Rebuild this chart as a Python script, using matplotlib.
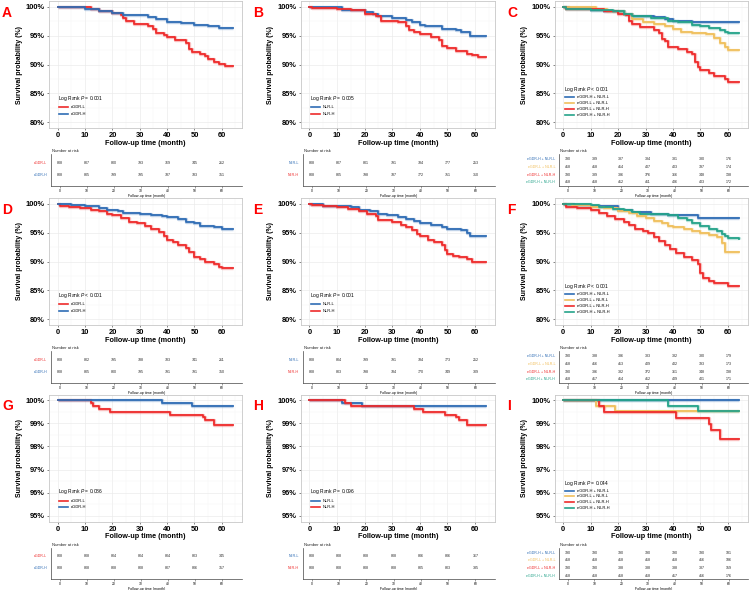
import numpy as np
import matplotlib.pyplot as plt
from matplotlib.ticker import MultipleLocator, FuncFormatter

plt.rcParams['font.family'] = ['Liberation Sans', 'DejaVu Sans']
plt.rcParams['mathtext.fontset'] = 'custom'
plt.rcParams['mathtext.rm'] = 'Liberation Sans'
plt.rcParams['mathtext.it'] = 'Liberation Sans:italic'

BLUE = '#2F6DB5'
RED = '#EE2B2B'
YEL = '#F0BF5C'
TEAL = '#25A38A'

# ---- survival curves: (month, survival %) ----
A_L = [(0, 100), (12, 99.6), (15, 99.3), (20, 98.9), (23, 98.5), (24, 98.0), (25, 97.5), (28, 97.1),
       (33, 96.7), (35, 96.2), (36, 95.5), (39, 95.1), (40, 94.7), (43, 94.2), (47, 93.7), (48, 92.6),
       (49, 92.1), (52, 91.8), (54, 91.4), (55, 91.0), (57, 90.5), (59, 90.1), (61, 89.8), (64, 89.8)]
A_H = [(0, 100), (3, 99.9), (10, 99.7), (15, 99.3), (20, 98.9), (24, 98.5), (33, 98.2), (36, 97.8),
       (40, 97.4), (45, 97.2), (50, 96.9), (55, 96.7), (59, 96.4), (64, 96.4)]

B_L = [(0, 100), (7, 99.9), (12, 99.5), (20, 99.1), (23, 98.8), (25, 98.4), (30, 98.0), (35, 97.7),
       (37, 97.3), (40, 96.9), (42, 96.7), (48, 96.2), (53, 95.9), (55, 95.6), (58, 95.0), (64, 95.0)]
B_H = [(0, 100), (1, 99.8), (10, 99.7), (15, 99.4), (20, 98.8), (24, 98.4), (26, 97.6), (32, 97.3),
       (35, 96.7), (36, 96.0), (38, 95.6), (40, 95.2), (44, 94.8), (47, 94.3), (48, 93.2), (50, 92.8),
       (53, 92.4), (57, 91.9), (59, 91.6), (61, 91.3), (64, 91.3)]

C_HL = [(0, 100), (2, 99.8), (10, 99.5), (15, 99.2), (22, 98.8), (25, 98.4), (33, 98.2), (37, 97.8),
        (40, 97.6), (47, 97.4), (64, 97.4)]
C_LL = [(0, 100), (12, 99.6), (16, 99.2), (22, 98.7), (25, 97.8), (29, 97.3), (33, 97.0), (37, 96.6),
        (40, 96.1), (43, 95.7), (47, 95.4), (52, 95.2), (55, 94.6), (57, 93.7), (59, 93.0), (60, 92.5),
        (64, 92.5)]
C_LH = [(0, 100), (1, 99.7), (10, 99.6), (15, 99.2), (20, 98.8), (23, 98.5), (24, 97.5), (25, 97.0),
        (28, 96.5), (33, 96.0), (35, 95.5), (36, 94.5), (37, 94.0), (38, 93.0), (42, 92.7), (45, 92.2),
        (47, 91.8), (48, 90.5), (49, 89.5), (50, 89.0), (53, 88.6), (55, 88.0), (59, 87.5), (60, 87.0),
        (64, 87.0)]
C_HH = [(0, 100), (1, 99.7), (10, 99.5), (18, 99.3), (22, 98.8), (25, 98.4), (32, 98.0), (38, 97.6),
        (42, 97.3), (47, 96.9), (50, 96.6), (53, 96.3), (57, 96.0), (59, 95.6), (60, 95.4), (64, 95.4)]

D_L = [(0, 100), (1, 99.7), (4, 99.5), (8, 99.2), (12, 98.9), (15, 98.7), (18, 98.3), (20, 98.1),
       (23, 97.5), (26, 96.9), (29, 96.6), (32, 96.1), (34, 95.6), (37, 95.1), (39, 94.5), (40, 93.8),
       (42, 93.3), (44, 92.8), (47, 92.3), (48, 91.6), (50, 90.8), (52, 90.5), (54, 90.0), (57, 89.6),
       (59, 89.0), (60, 88.8), (64, 88.8)]
D_H = [(0, 100), (5, 99.8), (10, 99.6), (15, 99.3), (18, 99.0), (22, 98.7), (24, 98.4), (30, 98.3),
       (34, 98.1), (38, 97.9), (40, 97.7), (44, 97.3), (47, 96.9), (50, 96.6), (52, 96.2), (57, 96.0),
       (60, 95.6), (64, 95.6)]

E_L = [(0, 100), (2, 99.9), (5, 99.7), (10, 99.6), (15, 99.4), (18, 99.0), (22, 98.7), (25, 98.2),
       (28, 98.0), (32, 97.7), (35, 97.4), (38, 97.1), (40, 96.7), (44, 96.4), (48, 96.0), (50, 95.7),
       (55, 95.4), (57, 95.0), (58, 94.5), (64, 94.5)]
E_H = [(0, 100), (1, 99.8), (5, 99.6), (10, 99.4), (14, 99.1), (18, 98.7), (21, 98.3), (24, 97.8),
       (25, 97.2), (30, 96.9), (33, 96.4), (35, 95.9), (37, 95.4), (39, 94.8), (40, 94.5), (43, 93.8),
       (45, 93.3), (48, 92.8), (49, 92.0), (50, 91.3), (52, 91.0), (54, 90.7), (57, 90.5), (59, 90.0),
       (64, 90.0)]

F_HL = [(0, 100), (4, 99.8), (10, 99.6), (20, 99.0), (25, 98.5), (32, 98.3), (38, 98.0), (49, 97.5),
        (64, 97.5)]
F_LL = [(0, 100), (3, 99.8), (10, 99.5), (15, 99.2), (20, 98.8), (24, 98.4), (27, 97.9), (30, 97.6),
        (33, 97.0), (36, 96.7), (38, 96.2), (40, 95.9), (44, 95.6), (47, 95.3), (50, 95.0), (53, 94.6),
        (56, 94.3), (58, 93.2), (59, 91.7), (64, 91.7)]
F_LH = [(0, 100), (1, 99.4), (5, 99.2), (10, 98.9), (13, 98.4), (16, 97.9), (19, 97.4), (22, 96.9),
        (24, 96.3), (26, 95.7), (29, 95.3), (31, 94.9), (33, 94.3), (35, 93.6), (37, 92.8), (39, 92.1),
        (41, 91.4), (44, 90.8), (47, 90.2), (49, 89.6), (50, 88.0), (51, 87.2), (53, 86.6), (55, 86.3),
        (60, 85.8), (64, 85.8)]
F_HH = [(0, 100), (5, 99.9), (10, 99.8), (13, 99.4), (18, 99.1), (22, 98.9), (25, 98.6), (28, 98.3),
        (38, 98.0), (42, 97.6), (45, 97.2), (47, 96.6), (50, 96.2), (53, 95.7), (56, 95.2), (58, 94.8),
        (59, 94.4), (60, 94.0), (64, 93.9)]

G_L = [(0, 100), (12, 99.88), (13, 99.75), (15, 99.63), (19, 99.5), (41, 99.38), (53, 99.26),
       (54, 99.13), (57, 98.92), (64, 98.92)]
G_H = [(0, 100), (38, 99.88), (49, 99.75), (64, 99.75)]

H_L = [(0, 100), (12, 99.88), (19, 99.75), (64, 99.75)]
H_H = [(0, 100), (13, 99.88), (15, 99.75), (38, 99.63), (41, 99.5), (49, 99.38), (53, 99.26),
       (54, 99.13), (57, 98.92), (64, 98.92)]

I_HL = [(0, 100), (64, 100)]
I_LL = [(0, 100), (12, 99.76), (19, 99.52), (64, 99.52)]
I_LH = [(0, 100), (13, 99.74), (15, 99.49), (41, 99.23), (53, 98.97), (54, 98.72), (57, 98.33),
        (64, 98.33)]
I_HH = [(0, 100), (38, 99.76), (49, 99.52), (64, 99.52)]

# ---- numbers at risk at 0,10,...,60 months ----
risk_times = [0, 10, 20, 30, 40, 50, 60]
A_risk_L = [808, 807, 800, 793, 769, 745, 212]
A_risk_H = [808, 805, 799, 795, 787, 783, 351]
B_risk_L = [808, 807, 801, 791, 784, 777, 253]
B_risk_H = [808, 805, 798, 787, 772, 751, 310]
C_risk_HL = [390, 389, 387, 384, 381, 380, 176]
C_risk_LL = [418, 418, 414, 407, 403, 397, 174]
C_risk_LH = [390, 389, 386, 376, 366, 348, 138]
C_risk_HH = [418, 418, 412, 411, 406, 403, 172]
D_risk_L = [808, 802, 795, 788, 783, 741, 211]
D_risk_H = [808, 805, 800, 795, 791, 791, 350]
E_risk_L = [808, 804, 799, 791, 784, 773, 252]
E_risk_H = [808, 803, 798, 784, 770, 749, 309]
F_risk_HL = [390, 388, 386, 383, 382, 380, 179]
F_risk_LL = [418, 416, 413, 409, 402, 393, 173]
F_risk_LH = [390, 386, 382, 372, 361, 348, 138]
F_risk_HH = [418, 417, 414, 412, 409, 401, 171]
G_risk_L = [808, 808, 804, 804, 804, 803, 345]
G_risk_H = [808, 808, 808, 808, 807, 806, 357]
H_risk_L = [808, 808, 808, 808, 806, 806, 367]
H_risk_H = [808, 808, 808, 808, 805, 803, 335]
I_risk_HL = [390, 390, 390, 390, 390, 390, 181]
I_risk_LL = [418, 418, 418, 418, 418, 416, 186]
I_risk_LH = [390, 390, 388, 388, 388, 387, 159]
I_risk_HH = [418, 418, 418, 418, 417, 416, 176]

p_texts = ['= 0.001', '= 0.005', '< 0.001', '< 0.001', '= 0.001', '< 0.001', '= 0.086', '= 0.096', '= 0.044']
letters = ['A', 'B', 'C', 'D', 'E', 'F', 'G', 'H', 'I']

egdr = [('eGDR-L', RED), ('eGDR-H', BLUE)]
nlr = [('NLR-L', BLUE), ('NLR-H', RED)]
combo = [('eGDR-H + NLR-L', BLUE), ('eGDR-L + NLR-L', YEL), ('eGDR-L + NLR-H', RED), ('eGDR-H + NLR-H', TEAL)]

panels = [
    (egdr, [A_L, A_H], [A_risk_L, A_risk_H]),
    (nlr, [B_L, B_H], [B_risk_L, B_risk_H]),
    (combo, [C_HL, C_LL, C_LH, C_HH], [C_risk_HL, C_risk_LL, C_risk_LH, C_risk_HH]),
    (egdr, [D_L, D_H], [D_risk_L, D_risk_H]),
    (nlr, [E_L, E_H], [E_risk_L, E_risk_H]),
    (combo, [F_HL, F_LL, F_LH, F_HH], [F_risk_HL, F_risk_LL, F_risk_LH, F_risk_HH]),
    (egdr, [G_L, G_H], [G_risk_L, G_risk_H]),
    (nlr, [H_L, H_H], [H_risk_L, H_risk_H]),
    (combo, [I_HL, I_LL, I_LH, I_HH], [I_risk_HL, I_risk_LL, I_risk_LH, I_risk_HH]),
]

W, H = 752, 590
fig = plt.figure(figsize=(W / 100, H / 100), dpi=100)


def box(l, t, r, b):
    return [l / W, 1 - b / H, (r - l) / W, (b - t) / H]


km_lr = [(49, 241.5), (300.5, 495), (554.5, 747.6)]
tab_lr = [(51, 241.5), (303, 495), (559, 748)]
row_top = [1, 198, 394.5]
letter_x = [2, 253, 507]

for k, (groups, curves, risks) in enumerate(panels):
    r, c = divmod(k, 3)
    top = row_top[r]
    ax = fig.add_axes(box(km_lr[c][0], top, km_lr[c][1], top + 127))

    for (lab, col), cur in zip(groups, curves):
        t = [p[0] for p in cur]
        s = [p[1] for p in cur]
        ax.step(t, s, where='post', color=col, lw=2.4, alpha=0.3, solid_capstyle='butt', zorder=2)
        ax.step(t, s, where='post', color=col, lw=1.3, zorder=3)

    ax.set_xlim(-3.2, 67.2)
    if r < 2:
        ax.set_ylim(79, 101)
        ax.yaxis.set_major_locator(MultipleLocator(5))
        ax.yaxis.set_minor_locator(MultipleLocator(2.5))
    else:
        ax.set_ylim(94.75, 100.25)
        ax.yaxis.set_major_locator(MultipleLocator(1))
        ax.yaxis.set_minor_locator(MultipleLocator(0.5))
    ax.xaxis.set_major_locator(MultipleLocator(10))
    ax.xaxis.set_minor_locator(MultipleLocator(5))
    ax.yaxis.set_major_formatter(FuncFormatter(lambda v, p: f'{v:.0f}%'))
    ax.grid(which='major', color='#EBEBEB', lw=0.5, zorder=0)
    ax.grid(which='minor', color='#F5F5F5', lw=0.35, zorder=0)
    ax.set_axisbelow(True)
    for sp in ax.spines.values():
        sp.set_color('#C8C8C8')
        sp.set_linewidth(0.6)
    ax.tick_params(which='major', length=1.5, width=0.5, color='#555555', pad=1.5)
    ax.tick_params(which='minor', length=0)
    for lbl in ax.get_xticklabels() + ax.get_yticklabels():
        lbl.set_fontsize(5.4)
        lbl.set_fontweight('bold')
    ax.set_xlabel('Follow-up time (month)', fontsize=5.2, fontweight='bold', labelpad=0.5)
    ax.set_ylabel('Survival probability (%)', fontsize=5.0, fontweight='bold', labelpad=2)

    # legend drawn by hand
    n = len(groups)
    if n == 2:
        ty, ys = 0.235, [0.165, 0.112]
    else:
        ty, ys = 0.30, [0.244, 0.197, 0.150, 0.103]
    ax.text(0.047, ty, r'Log Rank $\it{P}$ ' + p_texts[k], transform=ax.transAxes,
            fontsize=3.5, va='center', ha='left')
    for (lab, col), yy in zip(groups, ys):
        ax.plot([0.052, 0.099], [yy, yy], transform=ax.transAxes, color=col, lw=1.2)
        ax.text(0.114, yy, lab, transform=ax.transAxes, fontsize=2.9, va='center', ha='left')

    fig.text(letter_x[c] / W, 1 - (top + 12) / H, letters[k], color='#FF0000',
             fontsize=10, fontweight='bold', ha='left', va='center')

    # number at risk table
    tl, tr = tab_lr[c]
    axt = fig.add_axes(box(tl, top + 153, tr, top + 184.5))
    axt.set_xlim(-3.2, 67.2)
    if n == 2:
        axt.set_ylim(-0.9, 1.75)
    else:
        axt.set_ylim(-0.4, 3.65)
    for i, ((lab, col), rk) in enumerate(zip(groups, risks)):
        yy = n - 1 - i
        for tt, v in zip(risk_times, rk):
            axt.text(tt, yy, str(v), fontsize=2.6, ha='center', va='center', color='#222222')
        axt.text(-0.02, yy, lab, transform=axt.get_yaxis_transform(), fontsize=2.6,
                 ha='right', va='center', color=col)
    axt.set_xticks(risk_times)
    axt.set_yticks([])
    axt.tick_params(axis='x', length=1.2, width=0.4, labelsize=2.4, pad=1, color='#555555')
    axt.set_xlabel('Follow-up time (month)', fontsize=2.6, labelpad=0.8)
    for side in ['top', 'right']:
        axt.spines[side].set_visible(False)
    for side in ['left', 'bottom']:
        axt.spines[side].set_color('#444444')
        axt.spines[side].set_linewidth(0.5)
    fig.text((tl + 1) / W, 1 - (top + 150) / H, 'Number at risk', fontsize=3.0,
             ha='left', va='center', color='#222222')

fig.savefig('out.png', dpi=100)
